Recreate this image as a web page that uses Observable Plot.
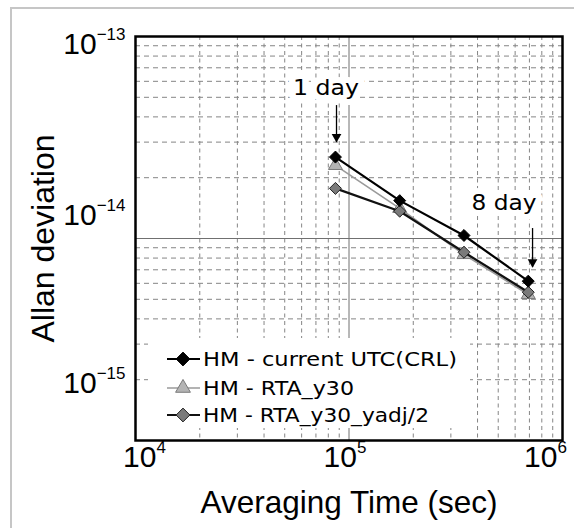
<!DOCTYPE html>
<html><head><meta charset="utf-8">
<script src="https://cdn.jsdelivr.net/npm/d3@7"></script>
<script src="https://cdn.jsdelivr.net/npm/@observablehq/plot@0.6"></script>
<style>
html,body{margin:0;padding:0;background:#fff;overflow:hidden;}
#wrap{position:relative;width:574px;height:528px;overflow:hidden;background:#fff;}
#border{position:absolute;left:10px;top:7px;width:700px;height:700px;border-top:2px solid #c6c6c6;border-left:2px solid #c6c6c6;}
#chart{position:absolute;left:0;top:0;}
#legend{position:absolute;left:148px;top:338px;}
</style></head><body>
<div id="wrap"><div id="border"></div><div id="chart"></div><svg id="legend"></svg></div>
<script>
// ---- data ----
const tau = [86400, 172800, 345600, 691200];
const seriesNames = ["HM - current UTC(CRL)", "HM - RTA_y30", "HM - RTA_y30_yadj/2"];
const utcCRL   = [2.53e-14, 1.54e-14, 1.035e-14, 6.15e-15];
const rtaY30   = [2.30e-14, 1.41e-14, 8.33e-15, 5.28e-15];
const rtaY30Adj = [1.77e-14, 1.365e-14, 8.55e-15, 5.42e-15];
const xTicks = [1e4, 1e5, 1e6];
const xTickExp = ["4", "5", "6"];
const yTicks = [1e-13, 1e-14, 1e-15];
const yTickExp = ["\u221213", "\u221214", "\u221215"];
const annLabels = ["1 day", "8 day"];
const annLabelX = [7.8e4, 5.32e5];
const annLabelY = [5.56e-14, 1.49e-14];
const arrowX = [8.74e4, 7.24e5];
const arrowTop = [4.55e-14, 1.12e-14];
const arrowTip = [2.99e-14, 7.18e-15];
const xTitle = "Averaging Time (sec)";
const yTitle = "Allan deviation";

// ---- styles ----
const seriesStyle = [
  {line: "#000", lineWidth: 2.2, symbol: "diamond2", r: 5.4, fill: "#000", stroke: "#000", legR: 6.2},
  {line: "#9a9a9a", lineWidth: 1.6, symbol: "triangle", r: 5.2, fill: "#b4b4b4", stroke: "#7a7a7a", legR: 5.5},
  {line: "#111", lineWidth: 2.2, symbol: "diamond2", r: 5.4, fill: "#7a7a7a", stroke: "#222", legR: 6.2}
];
const yLabelShift = [8, -23, -57];
const xLabelShift = [9, -4, -17];
const FONT = "'Liberation Sans', Arial, sans-serif";
const LFONT = "'DejaVu Sans', sans-serif";

const values = [utcCRL, rtaY30, rtaY30Adj];
const rows = seriesNames.map((name, k) => tau.map((t, i) => ({series: name, tau: t, adev: values[k][i]})));
const minorMult = [2, 3, 4, 5, 6, 7, 8, 9];
const minorX = minorMult.flatMap(m => [m * 1e4, m * 1e5]);
const minorY = minorMult.flatMap(m => [m * 1e-15, m * 1e-14]);
const ann = annLabels.map((l, i) => ({label: l, x: annLabelX[i], y: annLabelY[i]}));
const arrows = arrowX.map((x, i) => ({x, top: arrowTop[i], tip: arrowTip[i]}));

const seriesMarks = [1, 2, 0].flatMap(k => {
  const s = seriesStyle[k];
  return [
    Plot.line(rows[k], {x: "tau", y: "adev", stroke: s.line, strokeWidth: s.lineWidth}),
    Plot.dot(rows[k], {x: "tau", y: "adev", symbol: s.symbol, r: s.r, fill: s.fill, stroke: s.stroke, strokeWidth: 1})
  ];
});

const chart = Plot.plot({
  width: 574, height: 528,
  marginLeft: 135, marginRight: 12, marginTop: 36, marginBottom: 88,
  style: {fontFamily: FONT, background: "transparent", overflow: "visible", color: "#000"},
  x: {type: "log", domain: [1e4, 1e6], axis: null},
  y: {type: "log", domain: [1e-15, 1e-13], axis: null},
  marks: [
    Plot.ruleX(minorX, {stroke: "#858585", strokeWidth: 1, strokeDasharray: "4,3.5"}),
    Plot.ruleY(minorY, {stroke: "#858585", strokeWidth: 1, strokeDasharray: "5,4"}),
    Plot.ruleX([1e5], {stroke: "#707070", strokeWidth: 1}),
    Plot.ruleY([1e-14], {stroke: "#707070", strokeWidth: 1}),
    Plot.text(ann, {x: "x", y: "y", text: "label", fontSize: 21, fontFamily: LFONT, fill: "#000",
      stroke: "white", strokeWidth: 12, paintOrder: "stroke", strokeLinejoin: "round"}),
    Plot.ruleX(arrows, {x: "x", y1: "top", y2: "tip", stroke: "#000", strokeWidth: 1.3}),
    Plot.dot(arrows, {x: "x", y: "tip", symbol: "triangle", rotate: 180, r: 3.6, fill: "#000", stroke: "none", dy: -5.5}),
    ...seriesMarks,
    Plot.frame({stroke: "#000", strokeWidth: 2.5}),
    ...yTicks.map((t, i) => Plot.text([t], {y: d => d, text: () => "10^" + yTickExp[i], frameAnchor: "left",
      textAnchor: "end", dx: -10, dy: yLabelShift[i], fontSize: 30, fill: "#000"})),
    ...xTicks.map((t, i) => Plot.text([t], {x: d => d, text: () => "10^" + xTickExp[i], frameAnchor: "bottom",
      textAnchor: "middle", dx: xLabelShift[i], dy: 26, fontSize: 30, fill: "#000"})),
    Plot.text([xTitle], {text: d => d, frameAnchor: "bottom", textAnchor: "middle", dy: 72, fontSize: 31.5, fill: "#000"}),
    Plot.text([yTitle], {text: d => d, frameAnchor: "left", textAnchor: "middle", rotate: -90, dx: -92, fontSize: 32, fill: "#000"})
  ]
});
document.getElementById("chart").appendChild(chart);

// superscripts and text widths
const NS = "http://www.w3.org/2000/svg";
const widths = {"1 day": 66, "8 day": 65};
chart.querySelectorAll("text").forEach(t => {
  const s = t.textContent;
  const m = /^10\^(.+)$/.exec(s);
  if (m) {
    t.textContent = "";
    const a = document.createElementNS(NS, "tspan"); a.textContent = "10"; t.appendChild(a);
    const b = document.createElementNS(NS, "tspan");
    b.setAttribute("dy", "-14"); b.setAttribute("font-size", "17"); b.textContent = m[1]; t.appendChild(b);
  } else if (widths[s]) {
    t.setAttribute("textLength", widths[s]);
    t.setAttribute("lengthAdjust", "spacingAndGlyphs");
  }
});

// legend
const legW = 322, legH = 90;
const legRowY = [21, 50, 77];
const legTextLen = [254, 151, 226];
const lg = d3.select("#legend").attr("width", legW).attr("height", legH);
lg.append("rect").attr("width", legW).attr("height", legH).attr("fill", "white");
const symMap = {diamond2: d3.symbolDiamond2, triangle: d3.symbolTriangle};
seriesNames.forEach((name, k) => {
  const s = seriesStyle[k], y = legRowY[k];
  lg.append("line").attr("x1", 19).attr("x2", 52).attr("y1", y).attr("y2", y)
    .attr("stroke", s.line).attr("stroke-width", s.lineWidth);
  lg.append("path").attr("transform", `translate(35,${y})`)
    .attr("d", d3.symbol(symMap[s.symbol], Math.PI * s.legR * s.legR)())
    .attr("fill", s.fill).attr("stroke", s.stroke).attr("stroke-width", 1);
  lg.append("text").attr("x", 55).attr("y", y).attr("dy", "0.36em")
    .attr("font-family", LFONT).attr("font-size", 19).attr("fill", "#000")
    .attr("textLength", legTextLen[k]).attr("lengthAdjust", "spacingAndGlyphs")
    .text(name);
});
</script>
</body></html>
